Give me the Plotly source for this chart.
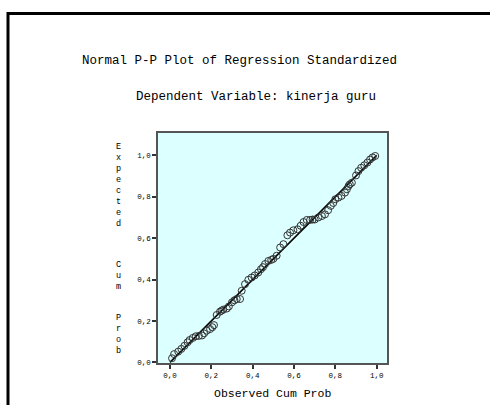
import plotly.graph_objects as go

observed = [0.01, 0.02, 0.04, 0.055, 0.07, 0.085, 0.095, 0.11, 0.125, 0.14,
            0.155, 0.165, 0.178, 0.194, 0.205, 0.213, 0.226, 0.242, 0.25, 0.258,
            0.275, 0.285, 0.30, 0.312, 0.323, 0.339, 0.347, 0.363, 0.379, 0.395,
            0.41, 0.427, 0.44, 0.45, 0.46, 0.476, 0.49, 0.50, 0.516, 0.533,
            0.549, 0.568, 0.581, 0.597, 0.617, 0.632, 0.646, 0.662, 0.678, 0.69,
            0.70, 0.718, 0.735, 0.75, 0.765, 0.778, 0.79, 0.80, 0.815, 0.83,
            0.847, 0.856, 0.864, 0.87, 0.88, 0.90, 0.912, 0.925, 0.94, 0.955,
            0.968, 0.98, 0.993]
expected = [0.02, 0.04, 0.052, 0.065, 0.08, 0.097, 0.108, 0.118, 0.126, 0.128,
            0.13, 0.14, 0.153, 0.161, 0.17, 0.18, 0.229, 0.245, 0.25, 0.255,
            0.26, 0.27, 0.29, 0.30, 0.306, 0.306, 0.346, 0.378, 0.399, 0.41,
            0.42, 0.434, 0.45, 0.46, 0.475, 0.49, 0.495, 0.50, 0.515, 0.555,
            0.571, 0.614, 0.627, 0.638, 0.643, 0.66, 0.678, 0.688, 0.688, 0.69,
            0.69, 0.70, 0.707, 0.715, 0.735, 0.756, 0.77, 0.788, 0.796, 0.804,
            0.82, 0.836, 0.852, 0.86, 0.868, 0.903, 0.924, 0.94, 0.952, 0.965,
            0.98, 0.99, 0.997]
ref_line = [0.0, 1.0]
tick_vals = [0.0, 0.2, 0.4, 0.6, 0.8, 1.0]

title1 = "Normal P-P Plot of Regression Standardized"
title2 = "Dependent Variable: kinerja guru"
x_title = "Observed Cum Prob"
y_title_words = ["Expected", "Cum", "Prob"]

W, H = 490, 405
L, R, T, B = 158, 387, 133, 363
FONT = "Liberation Mono, Courier New, monospace"


def px(x):
    return (x - L) / (R - L)


def py(y):
    return (B - y) / (B - T)


fig = go.Figure()
fig.add_trace(go.Scatter(x=ref_line, y=ref_line, mode="lines",
                         line=dict(color="black", width=1.5),
                         hoverinfo="skip", showlegend=False))
fig.add_trace(go.Scatter(x=observed, y=expected, mode="markers",
                         marker=dict(symbol="circle-open", size=7,
                                     color="#333333", line=dict(width=1)),
                         showlegend=False))

axis_common = dict(tickvals=tick_vals, tickformat=".1f", ticks="outside",
                   ticklen=4, tickwidth=1.5, tickcolor="#333333",
                   showline=True, linecolor="#555555", linewidth=1.5,
                   mirror=True, showgrid=False, zeroline=False,
                   tickfont=dict(family=FONT, size=7.5, color="black"))

fig.update_xaxes(range=[-0.058, 1.05], **axis_common)
fig.update_yaxes(range=[-0.003, 1.108], **axis_common)

annotations = [
    dict(text=title1, x=px(239), y=py(61)),
    dict(text=title2, x=px(255.5), y=py(97)),
    dict(text=x_title, x=px(272), y=py(393), font=dict(family=FONT, size=11.5, color="black")),
]
# vertical stacked y title: one multi-line text per word
word_centers = [185, 276, 334]
for word, yc in zip(y_title_words, word_centers):
    annotations.append(dict(text="<br>".join(word), x=px(118), y=py(yc),
                            font=dict(family=FONT, size=8.5, color="black")))

for a in annotations:
    a.setdefault("font", dict(family=FONT, size=12.5, color="black"))
    a.update(xref="paper", yref="paper", showarrow=False,
             xanchor="center", yanchor="middle")

fig.update_layout(
    width=W, height=H,
    margin=dict(l=L, r=W - R, t=T, b=H - B),
    paper_bgcolor="white", plot_bgcolor="#dcffff",
    separators=",.",
    annotations=annotations,
    shapes=[dict(type="rect", xref="paper", yref="paper",
                 x0=px(8), x1=px(W + 20), y0=py(H + 20), y1=py(13.5),
                 line=dict(color="black", width=3), layer="above")],
)

fig.write_html("out.html", config={"displayModeBar": False},
               post_script="document.body.style.margin='0';document.body.style.overflow='hidden';")
